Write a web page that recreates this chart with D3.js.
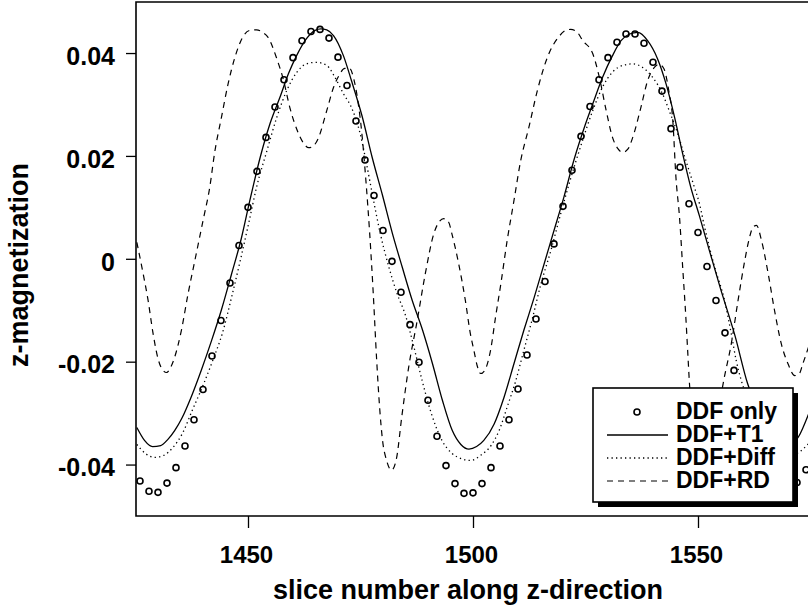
<!DOCTYPE html>
<html>
<head>
<meta charset="utf-8">
<script src="https://d3js.org/d3.v7.min.js"></script>
<style>
	body {
		margin: 0;
		background: #fff;
	}
	svg {
		display: block;
		font-family: "Liberation Sans", Arial, sans-serif;
	}
</style>
</head>
<body>
<svg id="chart" width="808" height="616"></svg>
<script>
///////////////////////////
// Data
///////////////////////////

// DDF only: open circles, every second slice
var ddfX = [1426,1428,1430,1432,1434,1436,1438,1440,1442,1444,
	1446,1448,1450,1452,1454,1456,1458,1460,1462,1464,
	1466,1468,1470,1472,1474,1476,1478,1480,1482,1484,
	1486,1488,1490,1492,1494,1496,1498,1500,1502,1504,
	1506,1508,1510,1512,1514,1516,1518,1520,1522,1524,
	1526,1528,1530,1532,1534,1536,1538,1540,1542,1544,
	1546,1548,1550,1552,1554,1556,1558,1560,1562,1564,
	1566,1568,1570,1572,1574];
var ddfY = [-0.0432,-0.0452,-0.0454,-0.0436,-0.0406,-0.0364,-0.0313,-0.0254,-0.0189,-0.0120,
	-0.0047,0.0026,0.0100,0.0170,0.0236,0.0295,0.0348,0.0391,0.0424,0.0442,
	0.0446,0.0429,0.0392,0.0337,0.0268,0.0192,0.0123,0.0055,-0.0005,-0.0065,
	-0.0128,-0.0201,-0.0275,-0.0345,-0.0402,-0.0437,-0.0456,-0.0455,-0.0437,-0.0406,
	-0.0364,-0.0313,-0.0253,-0.0187,-0.0117,-0.0044,0.0029,0.0102,0.0172,0.0238,
	0.0296,0.0348,0.0391,0.0421,0.0437,0.0437,0.0419,0.0382,0.0326,0.0253,
	0.0178,0.0107,0.0051,-0.0015,-0.0081,-0.0144,-0.0217,-0.0285,-0.0353,-0.0404,
	-0.0439,-0.0454,-0.0452,-0.0435,-0.0410];

// DDF+T1: solid line
var t1X = [1425.3,1427,1428.8,1430.6,1432.2,1433.7,1435.3,1437.4,1439.6,1441.9,
	1444.1,1446.3,1448.5,1450.4,1452.7,1454.9,1457.1,1459,1460.8,1463,
	1464.9,1466.2,1467.5,1469,1471.2,1473,1475.3,1477.6,1479.9,1482.1,
	1484.3,1486.5,1488.8,1491,1493.2,1495.4,1497.3,1499.1,1500.8,1502.4,
	1504.7,1506.9,1509.1,1511.3,1513.6,1515.8,1518,1520.2,1522.4,1525,
	1526.6,1528.8,1531,1532.9,1534.8,1536.6,1538.8,1541,1542.9,1544.8,
	1546.6,1548.4,1550.3,1552.2,1555,1558.2,1561,1563.9,1566.6,1568.8,
	1570.6,1572.4,1574.6];
var t1Y = [-0.0328,-0.0353,-0.0365,-0.0363,-0.0351,-0.0334,-0.0310,-0.0268,-0.0217,-0.0159,
	-0.0099,-0.0031,0.0039,0.0113,0.0197,0.0263,0.0314,0.0360,0.0395,0.0428,
	0.0444,0.0447,0.0445,0.0434,0.0395,0.0346,0.0279,0.0197,0.0123,0.0049,
	-0.0017,-0.0081,-0.0139,-0.0204,-0.0275,-0.0334,-0.0361,-0.0370,-0.0365,-0.0353,
	-0.0321,-0.0269,-0.0204,-0.0139,-0.0075,-0.0010,0.0055,0.0120,0.0191,0.0262,
	0.0301,0.0353,0.0395,0.0424,0.0437,0.0440,0.0424,0.0389,0.0340,0.0275,
	0.0204,0.0139,0.0084,0.0026,-0.0058,-0.0149,-0.0242,-0.0305,-0.0349,-0.0369,
	-0.0365,-0.0345,-0.0301];

// DDF+Diff: dotted line
var diffX = [1425.3,1427.3,1429.3,1431.3,1433.3,1435.4,1437.6,1440.2,1442.4,1444.3,
	1446.4,1448.4,1450.2,1451.9,1454.2,1456.4,1458.6,1460.8,1463,1465.2,
	1467.5,1469.3,1471.2,1473,1474.9,1476.2,1477.6,1479.4,1481.3,1483.1,
	1485,1486.8,1488.7,1490.9,1493.1,1495.3,1497.6,1499.5,1501.7,1504,
	1505.8,1507.6,1509.5,1511.3,1513.2,1515,1517.3,1519.5,1521.7,1523.9,
	1526.6,1528.8,1531,1533.3,1535.5,1537.7,1539.9,1542.1,1543.6,1545.5,
	1547.3,1549.2,1550.3,1551.5,1553.7,1555.9,1557.4,1558.5,1559.6,1562.2,
	1564.4,1566.6,1568.6,1570.6,1572.6,1574.6];
var diffY = [-0.0361,-0.0379,-0.0386,-0.0382,-0.0367,-0.0340,-0.0295,-0.0242,-0.0192,-0.0145,
	-0.0073,0.0001,0.0071,0.0139,0.0210,0.0275,0.0327,0.0362,0.0379,0.0382,
	0.0376,0.0353,0.0321,0.0294,0.0244,0.0191,0.0127,0.0049,-0.0016,-0.0067,
	-0.0110,-0.0169,-0.0237,-0.0305,-0.0353,-0.0378,-0.0389,-0.0392,-0.0382,-0.0363,
	-0.0334,-0.0288,-0.0237,-0.0178,-0.0116,-0.0052,0.0016,0.0088,0.0156,0.0218,
	0.0288,0.0334,0.0363,0.0376,0.0379,0.0372,0.0353,0.0321,0.0288,0.0243,
	0.0191,0.0139,0.0108,0.0060,-0.0016,-0.0081,-0.0146,-0.0198,-0.0236,-0.0295,
	-0.0344,-0.0373,-0.0386,-0.0384,-0.0375,-0.0359];

// DDF+RD: dashed line
var rdX = [1425.3,1426.7,1427.8,1428.9,1430.0,1430.8,1431.9,1432.7,1433.6,1435.2,
	1436.7,1438.2,1440.0,1441.5,1442.6,1444.1,1445.6,1447.0,1448.9,1450.4,
	1451.9,1453.3,1454.5,1456.4,1457.9,1459.3,1461.2,1462.4,1463.5,1464.6,
	1465.6,1467.5,1469.0,1470.2,1471.5,1472.6,1473.5,1474.4,1475.3,1476.2,
	1477.0,1477.8,1478.6,1479.3,1479.9,1480.8,1481.9,1483.0,1484.2,1485.7,
	1487.6,1489.4,1491.3,1492.4,1493.5,1494.6,1495.3,1496.8,1498.3,1499.4,
	1500.2,1500.9,1501.7,1502.6,1503.9,1505.0,1506.2,1507.6,1509.1,1510.6,
	1512.4,1514.3,1516.5,1519.1,1520.6,1521.7,1523.0,1524.4,1526.6,1528.1,
	1529.6,1531.0,1532.2,1533.3,1534.4,1535.5,1537.3,1538.8,1540.3,1541.3,
	1542.4,1543.5,1544.4,1545.1,1545.9,1546.6,1547.3,1547.7,1548.1,1548.8,
	1549.7,1550.6,1551.7,1552.8,1553.9,1554.6,1555.6,1557.4,1558.9,1560.4,
	1561.3,1562.2,1563.0,1564.1,1565.6,1567.0,1568.5,1570.0,1571.5,1572.4,
	1573.3,1574.8];
var rdY = [0.0032,-0.0029,-0.0081,-0.0145,-0.0194,-0.0213,-0.0221,-0.0213,-0.0194,-0.0139,
	-0.0067,-0.0003,0.0074,0.0139,0.0207,0.0275,0.0341,0.0389,0.0432,0.0444,
	0.0445,0.0440,0.0430,0.0389,0.0347,0.0294,0.0244,0.0224,0.0216,0.0220,
	0.0234,0.0288,0.0333,0.0356,0.0370,0.0370,0.0350,0.0308,0.0244,0.0152,
	0.0055,-0.0062,-0.0198,-0.0295,-0.0353,-0.0392,-0.0411,-0.0388,-0.0305,-0.0211,
	-0.0120,-0.0029,0.0049,0.0071,0.0078,0.0071,0.0049,-0.0009,-0.0081,-0.0145,
	-0.0178,-0.0207,-0.0223,-0.0217,-0.0178,-0.0114,-0.0048,0.0036,0.0113,0.0191,
	0.0255,0.0327,0.0391,0.0432,0.0444,0.0446,0.0442,0.0424,0.0399,0.0352,
	0.0288,0.0236,0.0214,0.0207,0.0213,0.0236,0.0294,0.0346,0.0372,0.0378,
	0.0370,0.0327,0.0269,0.0158,0.0080,-0.0017,-0.0114,-0.0178,-0.0242,-0.0314,
	-0.0373,-0.0402,-0.0411,-0.0396,-0.0353,-0.0295,-0.0242,-0.0165,-0.0081,-0.0003,
	0.0036,0.0061,0.0065,0.0036,-0.0029,-0.0100,-0.0165,-0.0204,-0.0227,-0.0225,
	-0.0204,-0.0165];

var xTicks = [1450, 1500, 1550];
var yTicks = [0.04, 0.02, 0, -0.02, -0.04];
var legendLabels = ["DDF only", "DDF+T1", "DDF+Diff", "DDF+RD"];

///////////////////////////
// Scales and frame
///////////////////////////
// (plotTop, not "top": window.top is read-only)
var plotLeft = 136, plotTop = 2, plotBottom = 516, plotRight = 808;

var svg = d3.select("#chart");
var x = d3.scaleLinear().domain([1425, 1575]).range([135.5, 810.5]);
var y = d3.scaleLinear().domain([-0.05, 0.05]).range([516, 1.6]);

svg.append("defs").append("clipPath").attr("id", "plot-clip")
	.append("rect")
	.attr("x", plotLeft).attr("y", plotTop)
	.attr("width", plotRight - plotLeft + 4).attr("height", plotBottom - plotTop);

// left axis with outward ticks
var yAxis = svg.append("g")
	.attr("transform", "translate(" + plotLeft + ",0)")
	.call(d3.axisLeft(y).tickValues(yTicks).tickSize(10).tickPadding(11)
		.tickFormat(function(d) { return d === 0 ? "0" : d.toFixed(2); }));
yAxis.select(".domain").remove();
yAxis.selectAll("line").attr("stroke", "#000").attr("stroke-width", 1.3);
yAxis.selectAll("text")
	.attr("dy", "0.45em")
	.style("font-size", "25px").style("font-weight", "bold").attr("fill", "#000");

// bottom axis
var xAxis = svg.append("g")
	.attr("transform", "translate(0," + plotBottom + ")")
	.call(d3.axisBottom(x).tickValues(xTicks).tickSize(12).tickPadding(18)
		.tickFormat(d3.format("d")));
xAxis.select(".domain").remove();
xAxis.selectAll("line").attr("stroke", "#000").attr("stroke-width", 1.3);
xAxis.selectAll("text")
	.attr("x", -2)
	.style("font-size", "24px").style("font-weight", "bold").attr("fill", "#000");

// plot frame (the right side falls outside the picture)
svg.append("path")
	.attr("d", "M" + (plotRight + 2) + "," + plotTop + "H" + plotLeft + "V" + plotBottom + "H" + (plotRight + 2))
	.attr("fill", "none").attr("stroke", "#000").attr("stroke-width", 1.6);

///////////////////////////
// Series
///////////////////////////
var plot = svg.append("g").attr("clip-path", "url(#plot-clip)");

function pairs(xs, ys) {
	return xs.map(function(v, i) { return [v, ys[i]]; });
}
var line = d3.line()
	.x(function(d) { return x(d[0]); })
	.y(function(d) { return y(d[1]); })
	.curve(d3.curveMonotoneX);

var styles = {
	t1: {dash: null, width: 1.3},
	diff: {dash: "1.3,3.2", width: 1.3},
	rd: {dash: "6,5", width: 1.2}
};

plot.append("path").datum(pairs(rdX, rdY))
	.attr("d", line).attr("fill", "none").attr("stroke", "#000")
	.attr("stroke-width", styles.rd.width).attr("stroke-dasharray", styles.rd.dash);
plot.append("path").datum(pairs(diffX, diffY))
	.attr("d", line).attr("fill", "none").attr("stroke", "#000")
	.attr("stroke-width", styles.diff.width).attr("stroke-dasharray", styles.diff.dash);
plot.append("path").datum(pairs(t1X, t1Y))
	.attr("d", line).attr("fill", "none").attr("stroke", "#000")
	.attr("stroke-width", styles.t1.width);

plot.selectAll("circle.ddf").data(pairs(ddfX, ddfY))
	.enter().append("circle")
	.attr("class", "ddf")
	.attr("cx", function(d) { return x(d[0]); })
	.attr("cy", function(d) { return y(d[1]); })
	.attr("r", 3)
	.attr("fill", "none").attr("stroke", "#000").attr("stroke-width", 1.6);

///////////////////////////
// Axis titles
///////////////////////////
svg.append("text")
	.attr("x", 468).attr("y", 599)
	.attr("text-anchor", "middle")
	.style("font-size", "27px").style("font-weight", "bold")
	.text("slice number along z-direction");

svg.append("text")
	.attr("transform", "translate(28,265) rotate(-90)")
	.attr("text-anchor", "middle")
	.style("font-size", "27px").style("font-weight", "bold")
	.text("z-magnetization");

///////////////////////////
// Legend
///////////////////////////
var lx = 593, ly = 388, lw = 200, lh = 114;
var legend = svg.append("g");
legend.append("rect")
	.attr("x", lx + 5).attr("y", ly + 5).attr("width", lw).attr("height", lh)
	.attr("fill", "#000");
legend.append("rect")
	.attr("x", lx).attr("y", ly).attr("width", lw).attr("height", lh)
	.attr("fill", "#fff").attr("stroke", "#000").attr("stroke-width", 1.6);

var rows = legend.selectAll("g.row").data(legendLabels)
	.enter().append("g")
	.attr("class", "row")
	.attr("transform", function(d, i) { return "translate(0," + (419 + i * 23) + ")"; });

rows.append("text")
	.attr("x", 676).attr("y", 0)
	.style("font-size", "23px").style("font-weight", "bold")
	.text(function(d) { return d; });

rows.filter(function(d, i) { return i === 0; })
	.append("circle")
	.attr("cx", 637).attr("cy", -7).attr("r", 3)
	.attr("fill", "none").attr("stroke", "#000").attr("stroke-width", 1.6);

var keyStyles = [null, styles.t1, styles.diff, styles.rd];
rows.filter(function(d, i) { return i > 0; })
	.append("line")
	.attr("x1", 607).attr("x2", 668)
	.attr("y1", -7).attr("y2", -7)
	.attr("stroke", "#000")
	.attr("stroke-width", function(d) { return keyStyles[legendLabels.indexOf(d)].width; })
	.attr("stroke-dasharray", function(d) { return keyStyles[legendLabels.indexOf(d)].dash; });
</script>
</body>
</html>
